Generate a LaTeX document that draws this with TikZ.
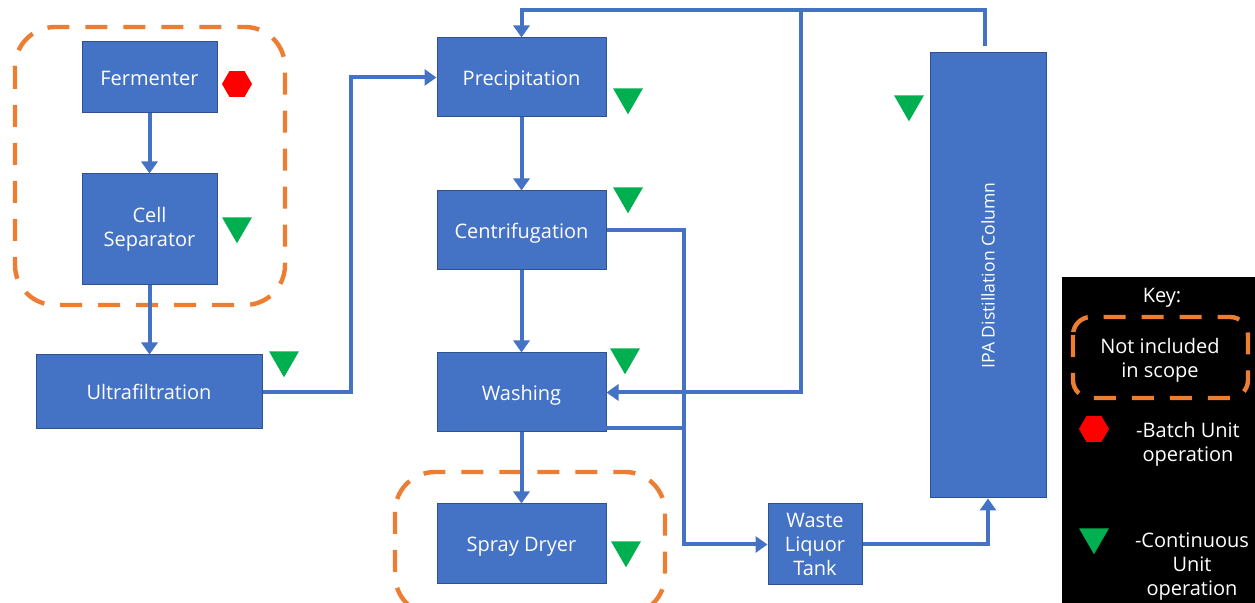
\documentclass[tikz,border=0pt]{standalone}
\usepackage{fontspec}
\setmainfont{Open Sans}
\usetikzlibrary{arrows.meta,shapes.geometric,calc}
\definecolor{boxblue}{HTML}{4472C4}
\definecolor{boxedge}{HTML}{2F528F}
\definecolor{scopeorange}{HTML}{ED7D31}
\definecolor{contgreen}{HTML}{00B050}
\tikzset{
  box/.style={draw=boxedge, line width=0.5pt, fill=boxblue, text=white,
    font=\fontsize{10}{12}\selectfont, align=center, inner sep=0pt},
  onebox/.style={box, text height=8.5pt, text depth=0.8pt},
  flow/.style={draw=boxblue, line width=2pt, -{Triangle[length=6pt,width=8pt]}},
  plainflow/.style={draw=boxblue, line width=2pt},
  scopebox/.style={draw=scopeorange, line width=2.2pt, dash pattern=on 11pt off 8pt, rounded corners=20pt},
  cont/.style={regular polygon, regular polygon sides=3, shape border rotate=180,
    fill=contgreen, minimum size=17.3pt, inner sep=0pt},
  batch/.style={regular polygon, regular polygon sides=6, fill=red,
    minimum size=15pt, inner sep=0pt},
  keytext/.style={text=white, font=\fontsize{10}{12}\selectfont, align=center, inner sep=0pt}
}
\begin{document}
\begin{tikzpicture}[x=0.5pt,y=-0.5pt]
\useasboundingbox (0,0) rectangle (1255,603);
\clip (0,0) rectangle (1255,603);
\fill[white] (0,0) rectangle (1255,603);

% scope boxes
\draw[scopebox] (15,27) rectangle (285,305);
\draw[scopebox] (395,472) rectangle (665,615);

% process nodes
\node[onebox, minimum width=67.5pt, minimum height=35.5pt] (ferm) at (149.5,77.5) {Fermenter};
\node[box, minimum width=67.5pt, minimum height=55.5pt] (cell) at (149.5,229.5) {Cell\\Separator};
\node[onebox, minimum width=113pt, minimum height=37pt] (ultra) at (149,392) {Ultrafiltration};
\node[onebox, minimum width=84.5pt, minimum height=39.5pt] (prec) at (521.5,77.5) {Precipitation};
\node[onebox, minimum width=84.5pt, minimum height=39.5pt] (cent) at (521.5,230.5) {Centrifugation};
\node[onebox, minimum width=84.5pt, minimum height=39.5pt] (wash) at (521.5,392.5) {Washing};
\node[onebox, minimum width=84.5pt, minimum height=40pt] (spray) at (521.5,544) {Spray Dryer};
\node[box, minimum width=47pt, minimum height=40.5pt] (waste) at (815,544.5) {Waste\\Liquor\\Tank};
\node[box, minimum width=58pt, minimum height=222.5pt] (ipa) at (988,275.5) {};
\node[text=white, rotate=90, font=\fontsize{8.8}{11}\selectfont, inner sep=0pt] (ipalabel) at (ipa.center) {IPA Distillation Column};

% markers
\node[batch] (b1) at (237,84) {};
\node[cont] (c1) at (237,226) {};
\node[cont] (c2) at (284,360) {};
\node[cont] (c3) at (628,97) {};
\node[cont] (c4) at (628,196) {};
\node[cont] (c5) at (625,357) {};
\node[cont] (c6) at (626,550) {};
\node[cont] (c7) at (909,104) {};

% connectors
\coordinate (top) at (801,10);
\coordinate (jx) at (684,230.5);
\coordinate (wout) at (606,428);
\draw[flow] (ferm) -- (cell);
\draw[flow] (cell.south) -- (cell.south |- ultra.north);
\draw[flow] (ultra.east) -- ++(88,0) |- (prec.west);
\draw[flow] (prec) -- (cent);
\draw[flow] (cent) -- (wash);
\draw[flow] (wash) -- (spray);
\draw[flow] (cent.east) -- (jx) |- (waste.west);
\draw[plainflow] (wout) -- (wout -| jx);
\draw[flow] (waste.east) -| (ipa.south);
\draw[flow] ($(ipa.north)+(-3,-6)$) |- (top) -| (prec.north);
\draw[flow] (top) |- (wash.east);

% key
\node[fill=black, minimum width=96.5pt, minimum height=163pt, inner sep=0pt] (keybox) at (1158.5,440) {};
\node[keytext] (keytitle) at (1162,298) {Key:};
\draw[scopebox, rounded corners=9pt] (1073,317) rectangle (1248,398);
\node[keytext] (keyscope) at (1160,360) {Not included\\in scope};
\node[batch] (kb) at (1094,429) {};
\node[keytext] (keybatch) at (1188,444) {-Batch Unit\\operation};
\node[cont] (kc) at (1094,537) {};
\node[keytext] (keycont) at (1192,567) {-Continuous\\Unit\\operation};
\end{tikzpicture}
\end{document}
